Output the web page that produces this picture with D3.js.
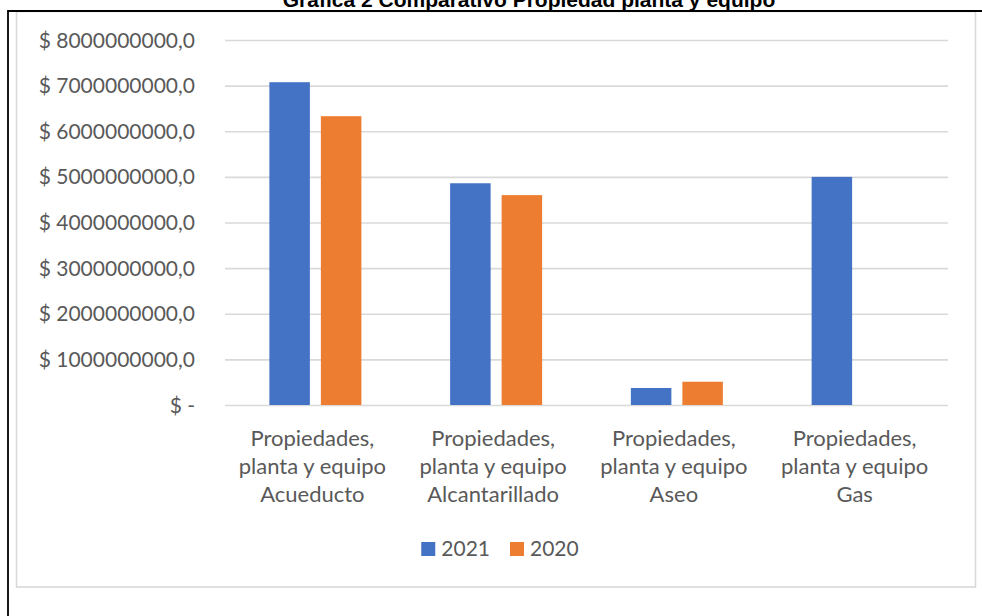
<!DOCTYPE html>
<html>
<head>
<meta charset="utf-8">
<script src="https://cdn.jsdelivr.net/npm/d3@7"></script>
<style>
  html, body { margin: 0; padding: 0; background: #fff; }
  svg { display: block; }
</style>
</head>
<body>
<svg id="chart" width="982" height="616"></svg>
<script>
const title = "Gráfica 2 Comparativo Propiedad planta y equipo";
const categories = [
  "Propiedades,\nplanta y equipo\nAcueducto",
  "Propiedades,\nplanta y equipo\nAlcantarillado",
  "Propiedades,\nplanta y equipo\nAseo",
  "Propiedades,\nplanta y equipo\nGas"
];
const seriesNames = ["2021", "2020"];
const values2021 = [7075000000, 4860000000, 373000000, 5000000000];
const values2020 = [6330000000, 4600000000, 510000000, null];
const yTicks = [0, 1000000000, 2000000000, 3000000000, 4000000000, 5000000000, 6000000000, 7000000000, 8000000000];
const yTickLabels = ["$ -", "$ 1000000000,0", "$ 2000000000,0", "$ 3000000000,0", "$ 4000000000,0",
  "$ 5000000000,0", "$ 6000000000,0", "$ 7000000000,0", "$ 8000000000,0"];
const colors = ["#4472C4", "#ED7D31"];

const svg = d3.select("#chart");
const textColor = "#595959";
const font = "Lato, 'Open Sans', sans-serif";

svg.append("rect").attr("x", 0).attr("y", 0).attr("width", 982).attr("height", 616).attr("fill", "#fff");

// chart area border
svg.append("rect")
  .attr("x", 16.5).attr("y", 11.5).attr("width", 959).attr("height", 575.5)
  .attr("fill", "#fff").attr("stroke", "#d9d9d9").attr("stroke-width", 1.6);

// title (clipped at top)
svg.append("text")
  .attr("x", 529).attr("y", 7)
  .attr("text-anchor", "middle")
  .attr("font-family", "'Liberation Sans', Arial, sans-serif")
  .attr("font-weight", "bold")
  .attr("font-size", 21)
  .attr("fill", "#000")
  .text(title);

// outer black frame
svg.append("path")
  .attr("d", "M8,616V11H982")
  .attr("fill", "none").attr("stroke", "#000").attr("stroke-width", 1.8);

const x0 = 225, x1 = 948, yTop = 40, yBase = 405;
const y = d3.scaleLinear().domain([0, 8000000000]).range([yBase, yTop]);
const x = d3.scaleBand().domain(categories).range([x0, x1]).paddingInner(0).paddingOuter(0);
const groupWidth = x.bandwidth() * 0.509;
const xs = d3.scaleBand().domain(seriesNames).range([0, groupWidth]).paddingInner(0.2136).paddingOuter(0);
const groupOffset = (x.bandwidth() - groupWidth) / 2;

// y axis with gridlines
const yAxis = d3.axisLeft(y)
  .tickValues(yTicks)
  .tickSizeInner(-(x1 - x0))
  .tickSizeOuter(0)
  .tickPadding(30)
  .tickFormat((d, i) => yTickLabels[i]);

const gy = svg.append("g").attr("transform", `translate(${x0},0)`).call(yAxis);
gy.select(".domain").remove();
gy.selectAll(".tick line").attr("stroke", "#d9d9d9").attr("stroke-width", 1.6);
gy.selectAll(".tick text")
  .attr("fill", textColor)
  .attr("font-family", font)
  .attr("font-size", 21)
  .attr("dy", null)
  .attr("y", 7);

// bars
const seriesData = [values2021, values2020];
seriesNames.forEach((s, si) => {
  svg.append("g").selectAll("rect")
    .data(categories.map((c, i) => ({ c, v: seriesData[si][i] })).filter(d => d.v != null && d.v > 0))
    .join("rect")
    .attr("x", d => x(d.c) + groupOffset + xs(s))
    .attr("width", xs.bandwidth())
    .attr("y", d => y(d.v))
    .attr("height", d => y(0) - y(d.v))
    .attr("fill", colors[si]);
});

// category labels
const gx = svg.append("g");
categories.forEach(c => {
  const t = gx.append("text")
    .attr("text-anchor", "middle")
    .attr("font-family", font)
    .attr("font-size", 22)
    .attr("fill", textColor);
  c.split("\n").forEach((line, li) => {
    t.append("tspan")
      .attr("x", x(c) + x.bandwidth() / 2 - 3)
      .attr("y", 446 + li * 28)
      .text(line);
  });
});

// legend
const legend = svg.append("g");
const items = seriesNames.map((s, i) => {
  const g = legend.append("g");
  g.append("rect").attr("width", 14).attr("height", 14).attr("y", -14).attr("fill", colors[i]);
  const t = g.append("text").attr("x", 20).attr("y", 0)
    .attr("font-family", font).attr("font-size", 21).attr("fill", textColor).text(s);
  return { g, w: 20 + t.node().getComputedTextLength() };
});
const gap = 20;
const total = d3.sum(items, d => d.w) + gap * (items.length - 1);
let cx = 500 - total / 2;
items.forEach(it => {
  it.g.attr("transform", `translate(${cx},556)`);
  cx += it.w + gap;
});
</script>
</body>
</html>
